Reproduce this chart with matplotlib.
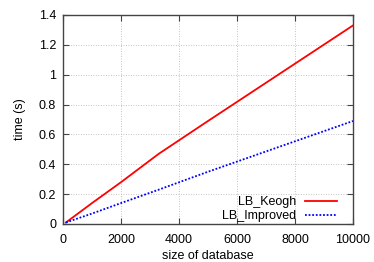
import matplotlib
matplotlib.use("Agg")
import matplotlib.pyplot as plt

plt.rcParams['font.family'] = ['Liberation Sans', 'DejaVu Sans']
plt.rcParams['font.size'] = 9

db_size = [100, 1000, 2000, 3300, 5000, 7500, 10000]
lb_keogh = [0.01, 0.14, 0.28, 0.47, 0.69, 1.01, 1.33]
lb_improved = [0.01, 0.07, 0.14, 0.23, 0.35, 0.52, 0.69]

fig = plt.figure(figsize=(3.74, 2.62), dpi=100)
ax = fig.add_axes([63 / 374, 1 - 224 / 262, 290 / 374, 209 / 262])

ax.plot(db_size, lb_keogh, color='#ff0000', lw=1.3, label='LB_Keogh')
ax.plot(db_size, lb_improved, color='#0000ff', lw=1.3, ls=(0, (1, 1)), label='LB_Improved')

ax.set_xlim(0, 10000)
ax.set_ylim(0, 1.4)
ax.set_xticks([0, 2000, 4000, 6000, 8000, 10000])
ax.set_yticks([0, 0.2, 0.4, 0.6, 0.8, 1, 1.2, 1.4])
ax.set_yticklabels(['0', '0.2', '0.4', '0.6', '0.8', '1', '1.2', '1.4'])
ax.grid(True, color='#b0b0b0', ls=(0, (1, 2)), lw=0.6)
ax.tick_params(direction='in', top=True, right=True, length=4, color='#444444',
               labelsize=9)
ax.tick_params(axis='x', pad=7)
ax.tick_params(axis='y', pad=5)
for s in ax.spines.values():
    s.set_color('#444444')
    s.set_linewidth(1.0)

ax.set_xlabel('size of database', labelpad=3)
ax.set_ylabel('time (s)', labelpad=9)
ax.legend(loc='lower right', bbox_to_anchor=(0.945, 0.01), frameon=False,
          markerfirst=False, handlelength=2.6, borderaxespad=0, borderpad=0,
          labelspacing=0.12, handletextpad=0.65, fontsize=9)

fig.savefig('out.png', dpi=100)
